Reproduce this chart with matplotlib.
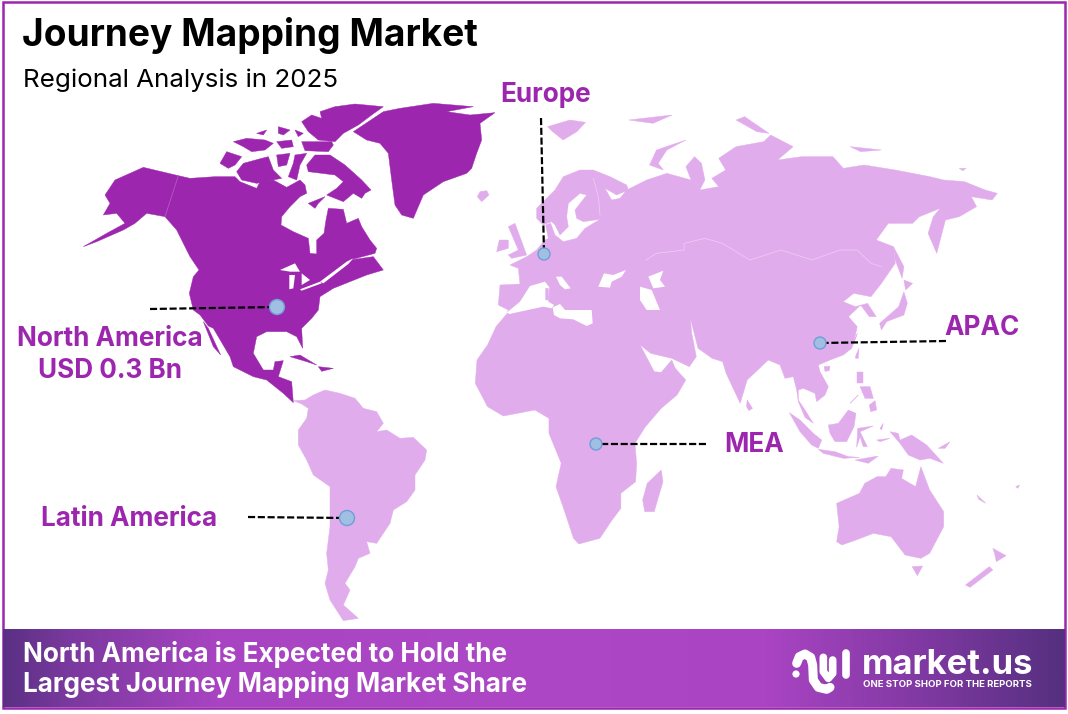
"""Journey Mapping Market regional map."""

import matplotlib

matplotlib.use("Agg")
import matplotlib.pyplot as plt
import numpy as np
from matplotlib.colors import LinearSegmentedColormap
from matplotlib.patches import Circle, Polygon

FONT = ["Inter", "DejaVu Sans"]
DARK = "#9C27AE"
LIGHT = "#E1ACEC"

TITLE = "Journey Mapping Market"
SUBTITLE = "Regional Analysis in 2025"
FOOTER = ["North America is Expected to Hold the", "Largest Journey Mapping Market Share"]
LOGO_NAME = "market.us"
LOGO_TAG = "ONE STOP SHOP FOR THE REPORTS"

CROPS = {
    "west": (0, 80, 3, 3),
    "arctic": (215, 100, 3, 3),
    "europe": (480, 160, 3, 3),
    "asia": (480, 90, 2.89, 3),
    "seasia": (780, 330, 3, 3),
    "south": (470, 340, 2.85, 3),
    "latam": (230, 380, 3, 3),
    "logo": (780, 630, 3, 3),
}

ALASKA_COAST = [(345, 300), (430, 262), (535, 287), (570, 295)]
ARCTIC_COAST = [
    (0, 230), (60, 230), (75, 245), (125, 265), (135, 245), (175, 240), (215, 262), (255, 240), (270, 255),
    (275, 280), (255, 290), (225, 320), (200, 350), (198, 375),
]
HUDSON_TO_PANAMA = [
    (880, 455), (925, 475), (930, 520), (950, 522), (950, 480), (972, 460), (978, 420), (985, 385), (1030, 388),
    (1040, 430), (1075, 415), (1085, 440), (1110, 480), (1130, 505), (1125, 520), (1050, 540), (1120, 530),
    (1150, 570), (1100, 585), (1050, 605), (1000, 625), (960, 650), (955, 690), (935, 715), (905, 745), (908, 805),
    (890, 770), (860, 755), (800, 755), (770, 770), (760, 820), (790, 870), (820, 870), (825, 845), (850, 842),
    (835, 890), (875, 905), (880, 968), (850, 940), (800, 900), (760, 890), (700, 860), (690, 830), (640, 745),
    (625, 738), (600, 705), (580, 690), (568, 640), (580, 590), (597, 570), (570, 530), (530, 450), (495, 410),
    (440, 400), (405, 430), (370, 450), (290, 485), (250, 500), (320, 460), (375, 430), (350, 400), (310, 405),
    (330, 370), (315, 345),
]
BAJA = [(610, 725), (625, 745), (662, 825), (640, 800)]
CUBA = [(870, 830), (900, 825), (950, 855), (920, 845)]
HISPANIOLA = [(955, 860), (1000, 865), (965, 874)]
GREENLAND = [
    (1060, 155), (1120, 115), (1150, 95), (1200, 85), (1300, 70), (1420, 80), (1340, 95), (1410, 105),
    (1485, 98), (1440, 130), (1445, 180), (1430, 220), (1415, 265), (1400, 280), (1330, 305),
    (1270, 345), (1240, 415), (1205, 405), (1185, 375), (1175, 300), (1165, 220), (1140, 190), (1100, 180),
]
BAFFIN = [
    (275, 195), (300, 165), (345, 165), (390, 195), (440, 240), (468, 270), (450, 280), (440, 295), (415, 280),
    (385, 305), (335, 285), (365, 265), (385, 245), (360, 225), (320, 220), (280, 215),
]
SOUTHAMPTON = [(280, 310), (330, 290), (310, 310), (300, 325)]
SOMERSET = [(240, 165), (275, 160), (255, 195), (245, 240), (220, 230), (235, 190)]
KING_WILLIAM = [(185, 165), (225, 160), (215, 195), (190, 200)]
BANKS = [(15, 190), (35, 155), (80, 170), (60, 195), (40, 205)]
VICTORIA = [(65, 215), (85, 190), (140, 175), (160, 170), (175, 210), (200, 235), (150, 245), (125, 250), (80, 240)]
MELVILLE_IS = [(55, 125), (95, 115), (150, 120), (175, 130), (150, 150), (110, 155), (85, 140)]
PRINCE_PATRICK = [(125, 100), (155, 90), (145, 105)]
BATHURST = [(190, 80), (225, 90), (205, 105), (190, 100)]
CORNWALLIS = [(185, 125), (230, 120), (235, 140), (200, 145)]
DEVON = [(260, 125), (350, 125), (355, 135), (340, 155), (270, 152)]
AMUND = [(240, 90), (265, 100), (250, 110)]
ELLESMERE = [
    (260, 65), (290, 45), (320, 55), (315, 35), (360, 20), (420, 12), (505, 20), (470, 45), (430, 75),
    (385, 100), (360, 125), (310, 120), (280, 95),
]

EUROPE_COAST = [
    (48, 500), (80, 462), (85, 450), (55, 435), (60, 375), (120, 372), (115, 325), (90, 315), (140, 290), (170, 270),
    (195, 240), (205, 235), (197, 195), (212, 190), (225, 225), (250, 245), (290, 235), (315, 205), (360, 178),
    (310, 185), (290, 175), (285, 150), (320, 105), (300, 100), (265, 130), (260, 170), (265, 200), (240, 225),
    (225, 195), (215, 185), (190, 195), (170, 175), (170, 145), (225, 90), (250, 50), (300, 30), (340, 30),
    (390, 50), (440, 75), (445, 90), (410, 105), (375, 85), (395, 120), (420, 115), (440, 90), (470, 75), (500, 60),
]
RUSSIA_COAST = [
    (540, 250), (610, 270), (595, 230), (620, 200), (640, 220), (650, 270), (635, 300), (690, 290), (670, 265),
    (710, 240), (690, 205), (740, 170), (820, 155), (840, 135), (905, 170), (860, 210), (930, 200), (1020, 200),
    (1050, 235), (1110, 225), (1200, 240), (1300, 260), (1340, 270), (1400, 275), (1460, 300), (1495, 310),
    (1480, 330), (1420, 320), (1435, 350), (1385, 380), (1345, 390), (1320, 490), (1295, 430), (1310, 380),
    (1330, 355), (1270, 380), (1250, 400), (1180, 400), (1145, 450), (1195, 470), (1200, 520), (1160, 580),
    (1130, 620), (1080, 610), (1050, 635), (1085, 650), (1120, 640), (1145, 680), (1125, 680), (1100, 645),
    (1065, 680), (1090, 710), (1080, 760),
]
INDOCHINA_COAST = [
    (232, 10), (215, 55), (190, 75), (150, 90), (115, 105), (120, 125), (145, 170), (135, 195), (110, 215), (105, 190),
    (70, 175), (55, 180), (55, 210), (75, 240), (100, 280), (75, 262), (55, 215), (50, 180), (40, 140), (15, 145), (0, 105),
]
ARABIA_AFRICA_COAST = [
    (850, 60), (790, 120), (770, 190), (730, 100), (720, 65), (690, 55), (650, 25), (628, -65), (632, -20), (645, 50),
    (625, 80), (575, 55), (515, 40), (485, 15), (525, 95), (545, 97), (575, 60), (585, 85), (615, 120), (590, 165),
    (545, 205), (500, 260), (470, 310), (475, 370), (472, 425), (430, 460), (430, 505), (405, 540), (370, 595),
    (310, 612), (295, 595), (265, 500), (245, 440), (260, 370), (225, 280), (225, 235), (185, 210), (95, 228),
    (50, 200), (15, 130), (20, 60), (50, 15),
]
SOUTH_AMERICA = [
    (205, 150), (230, 115), (235, 85), (215, 72), (190, 62), (225, 60), (250, 45), (285, 30), (330, 40),
    (375, 55), (400, 85), (440, 95), (460, 130), (440, 155), (470, 150), (510, 175), (550, 172),
    (590, 210), (585, 240), (555, 285), (555, 330), (530, 365), (490, 390), (480, 430), (440, 490),
    (410, 485), (420, 520), (385, 535), (375, 560), (345, 610), (360, 630), (340, 675), (385, 715),
    (340, 722), (300, 660), (285, 610), (295, 570), (290, 520), (300, 440), (300, 320), (250, 285),
    (230, 240), (205, 195),
]
ICELAND = [(0, 95), (20, 92), (27, 105), (5, 125), (-8, 110)]
BRITAIN = [(85, 200), (105, 190), (140, 285), (95, 295), (85, 285), (115, 270), (100, 235)]
IRELAND = [(50, 275), (58, 240), (85, 240), (85, 265)]
CORSICA = [(197, 385), (205, 385), (206, 420), (197, 420)]
SVALBARD = [(195, 110), (260, 90), (305, 97), (280, 125), (240, 150), (210, 125)]
NOVAYA_ZEMLYA = [(490, 225), (510, 180), (595, 150), (540, 180), (515, 220), (530, 240)]
FRANZ_JOSEF = [(430, 90), (555, 75), (500, 100)]
SEVERNAYA = [(740, 90), (765, 80), (835, 130), (800, 125)]
NEW_SIBERIAN = [(1070, 170), (1160, 180), (1100, 185)]
WRANGEL = [(1385, 235), (1405, 235), (1395, 242)]
SAKHALIN = [(1195, 470), (1225, 530), (1220, 565), (1200, 510)]
HONSHU = [(1155, 700), (1210, 650), (1225, 605), (1235, 640), (1225, 675), (1175, 695), (1160, 720)]
HOKKAIDO = [(1225, 570), (1250, 580), (1230, 600)]
HAINAN = [(132, 110), (150, 108), (148, 122), (135, 124)]
TAIWAN = [(228, 75), (237, 55), (235, 85), (226, 85)]
LUZON = [(232, 125), (248, 125), (248, 160), (232, 160)]
VISAYAS = [(240, 170), (270, 170), (280, 205), (255, 205)]
MINDANAO = [(268, 225), (285, 212), (290, 240), (272, 245)]
PALAWAN = [(210, 220), (235, 195), (225, 205)]
BORNEO = [(145, 285), (175, 280), (205, 240), (228, 250), (222, 290), (200, 335), (165, 335), (150, 310)]
SUMATRA = [(28, 248), (60, 270), (100, 310), (125, 330), (115, 355), (95, 345), (60, 305)]
JAVA = [(115, 358), (165, 365), (205, 380), (240, 382), (190, 385), (130, 370)]
FLORES = [(225, 390), (295, 378), (265, 400), (245, 395)]
SULAWESI = [(233, 295), (280, 288), (240, 305), (262, 350), (250, 350), (240, 320), (230, 352)]
HALMAHERA = [(300, 295), (310, 280), (305, 300)]
SERAM = [(290, 330), (330, 325), (300, 335)]
NEW_GUINEA = [(330, 305), (355, 310), (360, 330), (395, 315), (440, 345), (490, 400), (450, 385), (420, 390), (385, 375), (360, 340)]
NEW_BRITAIN = [(475, 355), (510, 335), (495, 355)]
SRI_LANKA = [(790, 180), (805, 205), (795, 212), (788, 200)]
AUSTRALIA = [
    (1045, 490), (1110, 460), (1125, 430), (1160, 410), (1185, 410), (1200, 385), (1235, 390), (1230, 415),
    (1270, 440), (1285, 380), (1310, 450), (1350, 515), (1350, 560), (1310, 640), (1285, 655), (1240, 645),
    (1200, 590), (1150, 580), (1100, 600), (1060, 615), (1045, 605), (1052, 560),
]
TASMANIA = [(1260, 680), (1290, 678), (1275, 707)]
NZ_NORTH = [(1490, 625), (1528, 647), (1500, 665), (1495, 640)]
NZ_SOUTH = [(1480, 680), (1490, 690), (1425, 742), (1412, 735)]
MADAGASCAR = [(545, 390), (550, 425), (525, 515), (498, 515), (492, 480), (505, 430)]
NEW_CALEDONIA = [(1445, 465), (1470, 490), (1450, 478)]
FIJI = [(1555, 440), (1566, 435), (1562, 445)]

# inland water, painted white over the land
MED_WEST = [(80, 458), (120, 425), (150, 378), (195, 365), (208, 382), (205, 425), (222, 435), (215, 445), (190, 440), (88, 462)]
MED_EAST = [(218, 442), (240, 432), (255, 450), (335, 450), (338, 490), (320, 498), (280, 478), (240, 475), (222, 465)]
ADRIATIC = [(228, 350), (245, 350), (272, 385), (255, 388), (240, 375)]
BLACK_SEA = [(355, 380), (372, 340), (400, 345), (438, 330), (425, 350), (395, 365), (390, 383)]
CASPIAN = [(480, 380), (515, 390), (540, 450), (500, 450), (480, 420)]
ARAL = [(505, 350), (550, 332), (540, 360), (555, 380), (520, 385)]
SUPERIOR = [(840, 570), (885, 550), (900, 575), (870, 575)]
MICHIGAN = [(868, 585), (885, 585), (880, 625), (868, 628)]
HURON = [(905, 580), (930, 600), (905, 615)]
ERIE_ONTARIO = [(900, 628), (960, 605), (965, 610), (905, 632)]
ST_LAWRENCE = [(960, 605), (1040, 545), (1060, 535), (1045, 552), (970, 610)]

# faint country borders
ALASKA_BORDER = [(535, 287), (495, 410)]
ASIA_BORDER = [
    (480, 510), (510, 490), (590, 480), (590, 460), (650, 445), (700, 460), (780, 510), (870, 480), (960, 510),
    (1040, 480), (1090, 480), (1130, 520), (1160, 530),
]
FINLAND_BORDER = [(340, 55), (355, 110), (360, 165)]

CALLOUT_NAMES = ["North America\nUSD 0.3 Bn", "Europe", "APAC", "MEA", "Latin America"]
CALLOUT_X = [110, 546, 982, 754, 129]
CALLOUT_Y = [355, 95, 328, 445, 519]
DOT_X = [277, 544, 820, 596, 347]
DOT_Y = [307, 254, 343, 444, 518]
LINE_X = [150, 541, 946, 706, 248]
LINE_Y = [309, 118, 341, 444, 517]
DOT_R = [7.5, 6, 6, 6, 7.5]

BANNER_STOPS = [(0.0, "#5A3084"), (0.06, "#7A399E"), (0.2, "#A844C2"), (0.5, "#AD47C6"), (0.72, "#AA44C3"), (0.88, "#7C389F"), (1.0, "#55307F")]

LOGO_CURVE = [(50, 100), (58, 80), (75, 72), (92, 82), (98, 105), (100, 150), (115, 172), (140, 178), (150, 172)]
LOGO_BAR_A = [(130, 82), (130, 125), (145, 145), (158, 130), (158, 90)]
LOGO_BAR_B = [(197, 68), (197, 135)]


def trace(points, crop):
    x0, y0, xs, ys = CROPS[crop]
    return [(x0 + x / xs, y0 + y / ys) for x, y in points]


def land(ax, points, color, zorder=2):
    ax.add_patch(Polygon(points, closed=True, fc=color, ec=color, lw=0.3, zorder=zorder))


fig = plt.figure(figsize=(10.68, 7.14), dpi=100, facecolor="white")
ax = fig.add_axes([0, 0, 1, 1])
ax.set_xlim(0, 1068)
ax.set_ylim(714, 0)
ax.axis("off")

# frame
ax.add_patch(Polygon([(3, 2), (1065, 2), (1065, 708), (3, 708)], closed=True, fc="white", ec=DARK, lw=1.8, zorder=0))

north_america = (trace(ALASKA_COAST, "west") + trace(ARCTIC_COAST, "arctic") + trace(HUDSON_TO_PANAMA, "west"))
land(ax, north_america, DARK)
for shape in [BAJA, CUBA, HISPANIOLA, GREENLAND]:
    land(ax, trace(shape, "west"), DARK)
for shape in [BAFFIN, SOUTHAMPTON, SOMERSET, KING_WILLIAM, BANKS, VICTORIA, MELVILLE_IS, PRINCE_PATRICK, BATHURST,
              CORNWALLIS, DEVON, AMUND, ELLESMERE]:
    land(ax, trace(shape, "arctic"), DARK)

afro_eurasia = (trace(EUROPE_COAST, "europe") + trace(RUSSIA_COAST, "asia") + trace(INDOCHINA_COAST, "seasia")
                + trace(ARABIA_AFRICA_COAST, "south"))
land(ax, afro_eurasia, LIGHT)
land(ax, trace(SOUTH_AMERICA, "latam"), LIGHT)
for shape in [ICELAND, BRITAIN, IRELAND]:
    land(ax, trace(shape, "europe"), LIGHT)
for shape in [SVALBARD, NOVAYA_ZEMLYA, FRANZ_JOSEF, SEVERNAYA, NEW_SIBERIAN, WRANGEL, SAKHALIN, HONSHU, HOKKAIDO]:
    land(ax, trace(shape, "asia"), LIGHT)
for shape in [HAINAN, TAIWAN, LUZON, VISAYAS, MINDANAO, PALAWAN, BORNEO, SUMATRA, JAVA, FLORES, SULAWESI, HALMAHERA,
              SERAM, NEW_GUINEA, NEW_BRITAIN]:
    land(ax, trace(shape, "seasia"), LIGHT)
for shape in [SRI_LANKA, AUSTRALIA, TASMANIA, NZ_NORTH, NZ_SOUTH, MADAGASCAR, NEW_CALEDONIA, FIJI]:
    land(ax, trace(shape, "south"), LIGHT)

for shape in [MED_WEST, MED_EAST, ADRIATIC, BLACK_SEA, CASPIAN, ARAL]:
    ax.add_patch(Polygon(trace(shape, "europe"), closed=True, fc="white", ec="none", zorder=3))
land(ax, trace(CORSICA, "europe"), LIGHT, zorder=3)
for shape in [SUPERIOR, MICHIGAN, HURON, ERIE_ONTARIO, ST_LAWRENCE]:
    ax.add_patch(Polygon(trace(shape, "west"), closed=True, fc="white", ec="none", zorder=3))

for line, crop, color in [(ALASKA_BORDER, "west", "#B25BC2"), (ASIA_BORDER, "asia", "#EBCBF2"), (FINLAND_BORDER, "europe", "#EBCBF2")]:
    pts = np.array(trace(line, crop))
    ax.plot(pts[:, 0], pts[:, 1], color=color, lw=0.6, zorder=3)

# callouts
for name, tx, ty, dx, dy, lx, ly, r in zip(CALLOUT_NAMES, CALLOUT_X, CALLOUT_Y, DOT_X, DOT_Y, LINE_X, LINE_Y, DOT_R):
    ax.plot([lx, dx], [ly, dy], color="black", lw=1.6, ls=(0, (3.2, 1.2)), zorder=4)
    ax.add_patch(Circle((dx, dy), r, fc="#A0BFE2", ec="#6E9FD6", lw=1, zorder=5))
    ax.text(tx, ty, name, color=DARK, fontsize=18.8, fontweight="bold", family=FONT, ha="center", va="center",
            linespacing=1.27, zorder=6)

ax.text(22, 36, TITLE, fontsize=26.7, fontweight="bold", family=FONT, color="black", va="center", zorder=6)
ax.text(23, 80, SUBTITLE, fontsize=18.7, family=FONT, color="black", va="center", zorder=6)

# footer banner
cmap = LinearSegmentedColormap.from_list("banner", BANNER_STOPS)
ax.imshow(np.linspace(0, 1, 512)[None, :], cmap=cmap, extent=(3, 1065, 707, 629), aspect="auto", zorder=7)
ax.set_xlim(0, 1068)
ax.set_ylim(714, 0)
for text, y in zip(FOOTER, [655, 685]):
    ax.text(23, y, text, color="white", fontsize=18.8, fontweight="bold", family=FONT, va="center", zorder=8)

# logo
for stroke, width in [(LOGO_CURVE, 6.5), (LOGO_BAR_A, 5.5), (LOGO_BAR_B, 5.5)]:
    pts = np.array(trace(stroke, "logo"))
    ax.plot(pts[:, 0], pts[:, 1], color="white", lw=width, solid_capstyle="round", solid_joinstyle="round", zorder=8)
ax.add_patch(Circle((796, 674), 3.6, fc="white", ec="none", zorder=8))
ax.text(862, 674, LOGO_NAME, color="white", fontsize=24.9, fontweight="bold", family=FONT, va="baseline", zorder=8)
ax.text(863, 684.5, LOGO_TAG, color="white", fontsize=6.9, fontweight="bold", family=FONT, va="center", zorder=8)

fig.savefig("out.png", dpi=100, facecolor="white")
plt.close(fig)
